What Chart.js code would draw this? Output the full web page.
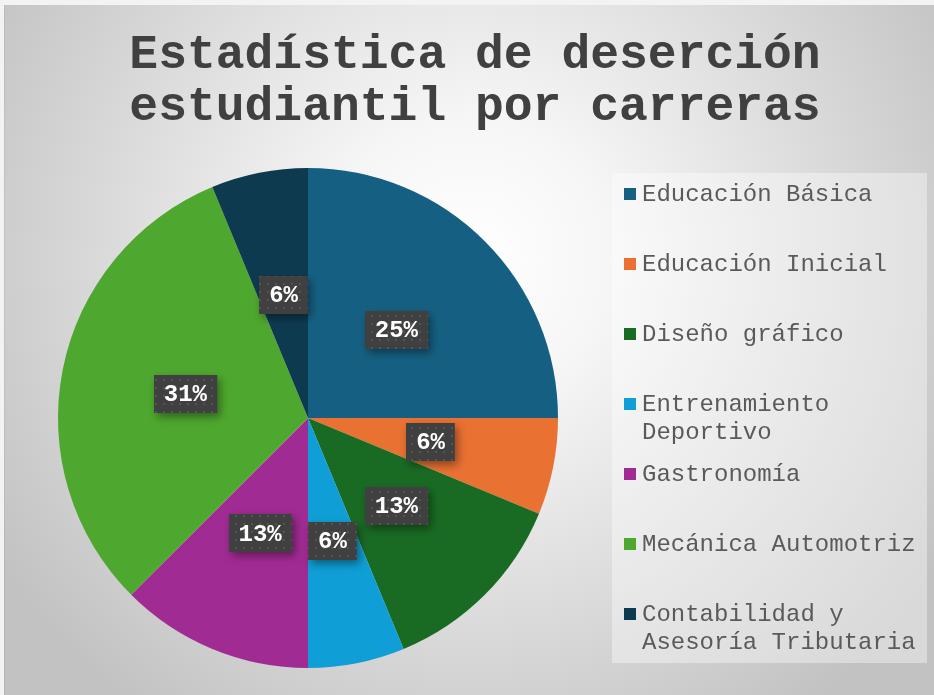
<!DOCTYPE html>
<html>
<head>
<meta charset="utf-8">
<script src="https://cdn.jsdelivr.net/npm/chart.js@4.4.1/dist/chart.umd.min.js"></script>
<style>
html,body{margin:0;padding:0;background:#f4f2f4;overflow:hidden;}
#wrap{position:absolute;left:0;top:0;width:934px;height:695px;}
</style>
</head>
<body>
<div id="wrap"><canvas id="c" width="934" height="695"></canvas></div>
<script>
const titleLines = ["Estadística de deserción", "estudiantil por carreras"];
const categories = [
  "Educación Básica",
  "Educación Inicial",
  "Diseño gráfico",
  "Entrenamiento Deportivo",
  "Gastronomía",
  "Mecánica Automotriz",
  "Contabilidad y Asesoría Tributaria"
];
const students = [4, 1, 2, 1, 2, 5, 1];
const colors = ["#156082", "#E97132", "#196B24", "#0F9ED5", "#A02B93", "#4EA72E", "#0E3A50"];

function makePattern(ctx) {
  const t = document.createElement('canvas');
  t.width = 8; t.height = 8;
  const c = t.getContext('2d');
  c.fillStyle = '#404040';
  c.fillRect(0, 0, 8, 8);
  c.fillStyle = '#545454';
  c.fillRect(3, 3, 2, 2);
  return ctx.createPattern(t, 'repeat');
}

const decor = {
  id: 'decor',
  beforeDraw(chart) {
    const ctx = chart.ctx;
    ctx.save();
    ctx.fillStyle = '#f4f2f4';
    ctx.fillRect(0, 0, 934, 695);
    const g = ctx.createRadialGradient(470, 260, 0, 470, 260, 560);
    g.addColorStop(0, '#ffffff');
    g.addColorStop(0.25, '#f6f6f6');
    g.addColorStop(1, '#c2c2c2');
    ctx.fillStyle = g;
    ctx.fillRect(4, 5, 930, 690);
    ctx.fillStyle = 'rgba(0,0,0,0.06)';
    ctx.fillRect(4, 5, 1, 690);
    // legend panel
    ctx.fillStyle = 'rgba(255,255,255,0.38)';
    ctx.fillRect(612, 173, 315, 490);
    ctx.restore();
  },
  afterDatasetsDraw(chart) {
    const ctx = chart.ctx;
    const meta = chart.getDatasetMeta(0);
    const total = students.reduce((a, b) => a + b, 0);
    const pat = makePattern(ctx);
    ctx.save();
    ctx.font = 'bold 24px "Liberation Mono", monospace';
    meta.data.forEach((arc, i) => {
      const p = arc.tooltipPosition();
      const txt = Math.round(students[i] / total * 100) + '%';
      const w = ctx.measureText(txt).width + 20;
      const h = 38;
      ctx.save();
      ctx.shadowColor = 'rgba(0,0,0,0.4)';
      ctx.shadowBlur = 9;
      ctx.shadowOffsetX = 3;
      ctx.shadowOffsetY = 4;
      ctx.fillStyle = pat;
      ctx.fillRect(Math.round(p.x - w / 2), Math.round(p.y - h / 2), w, h);
      ctx.restore();
      ctx.fillStyle = '#ffffff';
      ctx.textAlign = 'center';
      ctx.textBaseline = 'middle';
      ctx.fillText(txt, p.x, p.y + 1);
    });
    ctx.restore();
  },
  afterDraw(chart) {
    const ctx = chart.ctx;
    ctx.save();
    // title
    ctx.fillStyle = '#404040';
    ctx.font = 'bold 48px "Liberation Mono", monospace';
    ctx.textAlign = 'center';
    ctx.textBaseline = 'middle';
    titleLines.forEach((l, i) => ctx.fillText(l, 475, 56 + i * 52));
    // legend
    ctx.font = '24px "Liberation Mono", monospace';
    ctx.textAlign = 'left';
    const maxW = 284;
    categories.forEach((label, i) => {
      const y = 194 + i * 70;
      ctx.fillStyle = colors[i];
      ctx.fillRect(624, y - 6, 12, 12);
      const words = label.split(' ');
      const lines = [];
      let cur = '';
      words.forEach(w => {
        const test = cur ? cur + ' ' + w : w;
        if (ctx.measureText(test).width > maxW && cur) { lines.push(cur); cur = w; }
        else cur = test;
      });
      if (cur) lines.push(cur);
      ctx.fillStyle = '#5a5a5a';
      lines.forEach((ln, j) => ctx.fillText(ln, 642, y + 1 + j * 28));
    });
    ctx.restore();
  }
};

new Chart(document.getElementById('c'), {
  type: 'pie',
  data: {
    labels: categories,
    datasets: [{
      data: students,
      backgroundColor: colors,
      borderWidth: 0
    }]
  },
  options: {
    responsive: false,
    animation: false,
    events: [],
    layout: { padding: { left: 58, right: 376, top: 168, bottom: 27 } },
    plugins: {
      legend: { display: false },
      title: { display: false },
      tooltip: { enabled: false }
    }
  },
  plugins: [decor]
});
</script>
</body>
</html>
